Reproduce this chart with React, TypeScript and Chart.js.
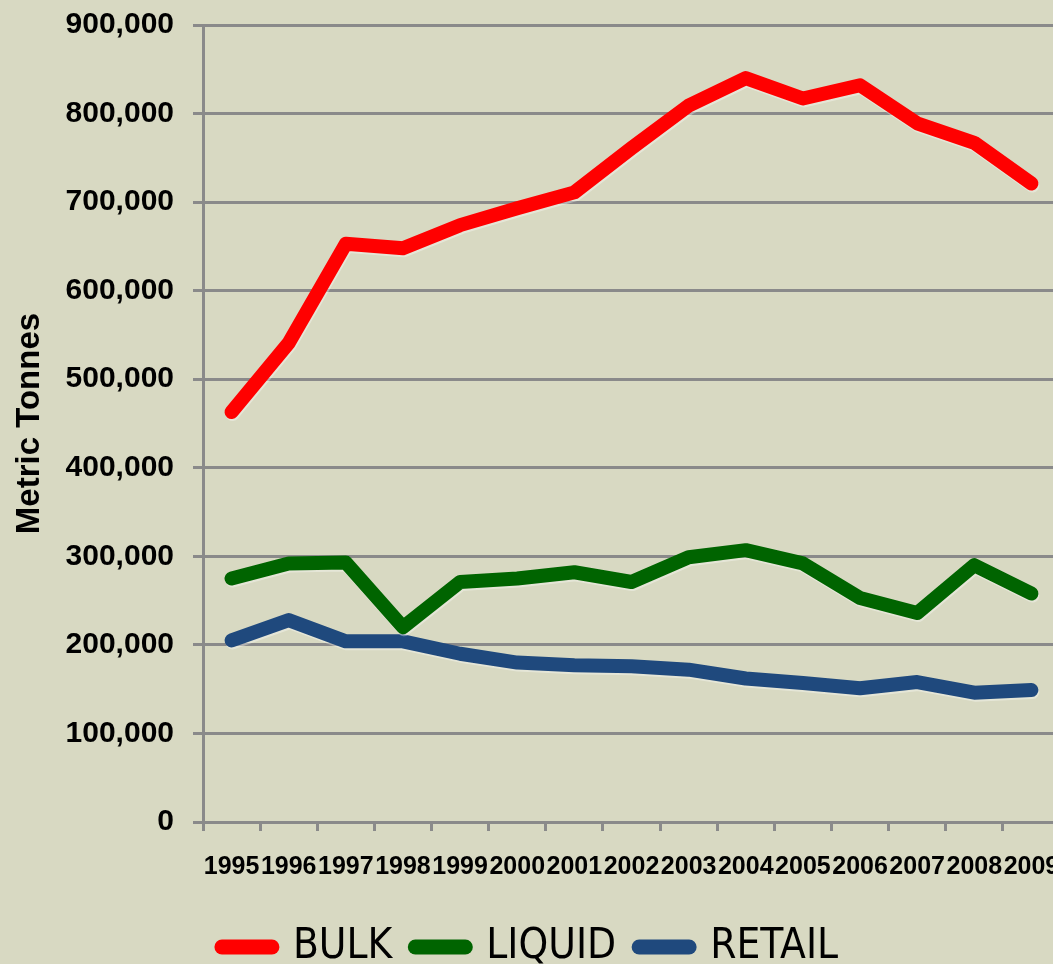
import React, { useEffect, useRef } from "react";
import { Chart, registerables } from "chart.js";

Chart.register(...registerables);

const years = ["1995", "1996", "1997", "1998", "1999", "2000", "2001", "2002", "2003", "2004", "2005", "2006", "2007", "2008", "2009"];
const bulk = [463000, 541000, 653000, 648000, 674000, 693000, 711000, 761000, 809000, 840000, 817000, 832000, 789000, 767000, 721000];
const liquid = [275000, 292000, 293000, 220000, 271000, 275000, 282000, 271000, 299000, 307000, 292000, 253000, 236000, 290000, 258000];
const retail = [205000, 228000, 204000, 204000, 190000, 180000, 177000, 176000, 172000, 162000, 157000, 151000, 158000, 146000, 149000];
const seriesNames = ["BULK", "LIQUID", "RETAIL"];
const seriesColors = ["#ff0000", "#006400", "#1f497d"];
const yTitle = "Metric Tonnes";

const BG = "#d8d9c2";
const GRID = "#8a8a8a";
const BOLD_FONT = "'Liberation Sans', Arial, sans-serif";
const LEGEND_FONT = "'DejaVu Sans Condensed', 'Liberation Sans Narrow', 'Liberation Sans', sans-serif";

const shadowPlugin = {
  id: "lineShadow",
  beforeDatasetsDraw(chart: any) {
    const ctx = chart.ctx;
    ctx.save();
    ctx.shadowColor = "rgba(255,255,255,0.35)";
    ctx.shadowOffsetX = 1;
    ctx.shadowOffsetY = 2;
    ctx.shadowBlur = 0;
  },
  afterDatasetsDraw(chart: any) {
    chart.ctx.restore();
  },
};

export default function App() {
  const ref = useRef<HTMLCanvasElement | null>(null);

  useEffect(() => {
    if (!ref.current) return;
    const mk = (label: string, data: number[], color: string) => ({
      label,
      data,
      borderColor: color,
      backgroundColor: color,
      pointBorderColor: color,
      pointBackgroundColor: color,
      borderWidth: 14,
      borderCapStyle: "round" as const,
      borderJoinStyle: "round" as const,
      pointRadius: 0,
      pointHoverRadius: 0,
      tension: 0,
      fill: false,
    });
    const chart = new Chart(ref.current, {
      type: "line",
      data: {
        labels: years,
        datasets: [
          mk(seriesNames[0], bulk, seriesColors[0]),
          mk(seriesNames[1], liquid, seriesColors[1]),
          mk(seriesNames[2], retail, seriesColors[2]),
        ],
      },
      plugins: [shadowPlugin],
      options: {
        responsive: false,
        animation: false,
        events: [],
        layout: { padding: { top: 25, left: 0, right: 2, bottom: 0 } },
        plugins: {
          tooltip: { enabled: false },
          legend: {
            display: true,
            position: "bottom",
            labels: {
              usePointStyle: true,
              pointStyle: "line",
              pointStyleWidth: 50,
              padding: 23,
              color: "#000000",
              font: { family: LEGEND_FONT, size: 42, weight: "normal" },
              generateLabels: (c: any) =>
                c.data.datasets.map((ds: any, i: number) => ({
                  text: ds.label,
                  fillStyle: ds.borderColor,
                  strokeStyle: ds.borderColor,
                  lineWidth: 15,
                  lineCap: "round",
                  pointStyle: "line",
                  hidden: false,
                  datasetIndex: i,
                  fontColor: "#000000",
                })),
            },
          },
        },
        scales: {
          x: {
            type: "category",
            offset: true,
            afterFit: (s: any) => {
              s.height = 81;
              s.paddingLeft = 0;
              s.paddingRight = 0;
            },
            grid: {
              display: true,
              offset: true,
              drawOnChartArea: false,
              drawTicks: true,
              tickLength: 9,
              color: GRID,
              lineWidth: 3,
            },
            border: { display: true, color: GRID, width: 3 },
            ticks: {
              autoSkip: false,
              maxRotation: 0,
              minRotation: 0,
              padding: 21,
              color: "#000000",
              font: { family: BOLD_FONT, size: 25, weight: "bold" },
            },
          },
          y: {
            min: 0,
            max: 900000,
            afterFit: (s: any) => {
              s.width = 203;
              s.paddingTop = 0;
              s.paddingBottom = 0;
            },
            grid: {
              display: true,
              drawTicks: true,
              tickLength: 10,
              color: GRID,
              lineWidth: 3,
            },
            border: { display: true, color: GRID, width: 3 },
            ticks: {
              stepSize: 100000,
              padding: 19,
              color: "#000000",
              font: { family: BOLD_FONT, size: 30, weight: "bold" },
              callback: (v: any) => Number(v).toLocaleString("en-US"),
            },
            title: {
              display: true,
              text: yTitle,
              color: "#000000",
              padding: { top: 10, bottom: 0 },
              font: { family: BOLD_FONT, size: 33, weight: "bold" },
            },
          },
        },
      },
    } as any);
    return () => chart.destroy();
  }, []);

  return (
    <div
      style={{
        position: "absolute",
        left: 0,
        top: 0,
        width: 1053,
        height: 964,
        overflow: "hidden",
        background: BG,
      }}
    >
      <canvas ref={ref} width={1062} height={978} style={{ display: "block", width: 1062, height: 978 }} />
    </div>
  );
}
